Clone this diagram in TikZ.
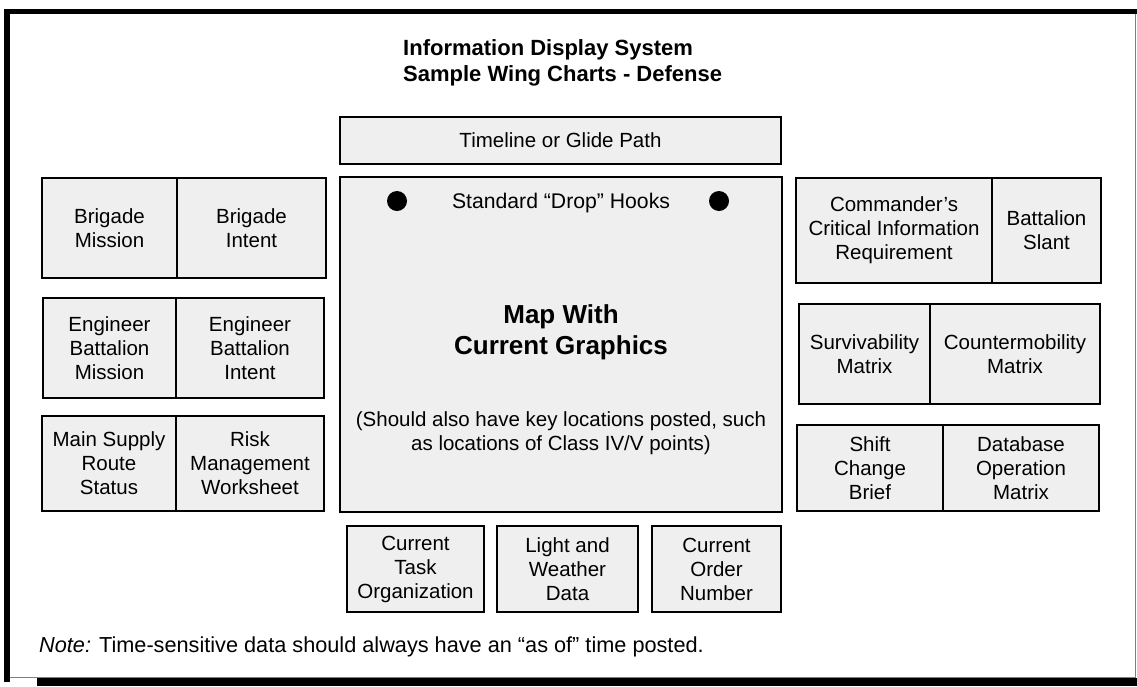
\documentclass[tikz,border=0pt]{standalone}
\usepackage{fontspec}
\setmainfont{Liberation Sans}
\usetikzlibrary{positioning}
\definecolor{panelgray}{HTML}{EFEFEF}
\definecolor{framegray}{HTML}{7F7F7F}

\tikzset{
  cell/.style={draw=black, line width=1.8pt, fill=panelgray, align=center,
    inner sep=0pt, outer sep=0pt, anchor=north west,
    font=\fontsize{20.5}{24}\selectfont},
  bodytext/.style={font=\fontsize{20.5}{24}\selectfont, align=center, inner sep=0pt},
  hook/.style={fill=black},
}

\begin{document}
\begin{tikzpicture}[x=1pt, y=-1pt]
  \useasboundingbox (0,0) rectangle (1137,686);

  % Page frame with heavy top, left and bottom edges
  \draw[framegray, line width=0.8pt] (7,10) rectangle (1135,677);
  \fill[black] (4,8.5) rectangle (1137,13.5);
  \fill[black] (4,8.5) rectangle (9.5,682);
  \fill[black] (37,678) rectangle (1137,686);

  % Title
  \node[font=\fontsize{22}{26}\selectfont\bfseries, align=left, anchor=west, inner sep=0pt] (title) at (403,63)
    {Information Display System\\Sample Wing Charts - Defense};

  % Centre column
  \node[cell, minimum width=441pt, minimum height=47pt] (timeline) at (340,117) {Timeline or Glide Path};
  \node[cell, minimum width=442pt, minimum height=335pt] (map) at (340,177) {};
  \fill[hook] (397,201) circle (10pt);
  \fill[hook] (719,201) circle (10pt);
  \node[bodytext, font=\fontsize{21.2}{24}\selectfont] (hooks) at (561,203) {Standard “Drop” Hooks};
  \node[font=\fontsize{26}{31}\selectfont\bfseries, align=center, inner sep=0pt] (maptitle) at (561,332)
    {Map With\\Current Graphics};
  \node[bodytext] (mapnote) at (561,433)
    {(Should also have key locations posted, such\\as locations of Class IV/V points)};

  % Left wing charts
  \node[cell, minimum width=135pt, minimum height=100pt] (bmis) at (42,178) {Brigade\\Mission};
  \node[cell, minimum width=149pt, minimum height=100pt, right=0pt of bmis] (bint) {Brigade\\Intent};
  \node[cell, minimum width=133pt, minimum height=100pt] (emis) at (43,298) {Engineer\\Battalion\\Mission};
  \node[cell, minimum width=148pt, minimum height=100pt, right=0pt of emis] (eint) {Engineer\\Battalion\\Intent};
  \node[cell, minimum width=134pt, minimum height=95pt] (msr) at (42,416) {Main Supply\\Route\\Status};
  \node[cell, minimum width=148pt, minimum height=95pt, right=0pt of msr] (risk) {Risk\\Management\\Worksheet};

  % Right wing charts
  \node[cell, minimum width=196pt, minimum height=105pt] (ccir) at (796,178) {Commander’s\\Critical Information\\Requirement};
  \node[cell, minimum width=109pt, minimum height=105pt, right=0pt of ccir] (slant) {Battalion\\Slant};
  \node[cell, minimum width=131pt, minimum height=100pt] (surv) at (799,304) {Survivability\\Matrix};
  \node[cell, minimum width=170pt, minimum height=100pt, right=0pt of surv] (cmob) {Countermobility\\Matrix};
  \node[cell, minimum width=146pt, minimum height=86pt] (shift) at (797,425) {Shift\\Change\\Brief};
  \node[cell, minimum width=156pt, minimum height=86pt, right=0pt of shift] (dbase) {Database\\Operation\\Matrix};

  % Bottom charts
  \foreach \nm/\x/\w/\txt in {task/347/137/{Current\\Task\\Organization},
      light/497/141/{Light and\\Weather\\Data},
      order/652/129/{Current\\Order\\Number}} {
    \node[cell, minimum width=\w pt, minimum height=86pt] (\nm) at (\x,526) {\txt};
  }

  % Footnote
  \node[font=\fontsize{21.7}{24}\selectfont, anchor=base west, inner sep=0pt] (note) at (39,652)
    {\textit{Note:} Time-sensitive data should always have an “as of” time posted.};
\end{tikzpicture}
\end{document}
